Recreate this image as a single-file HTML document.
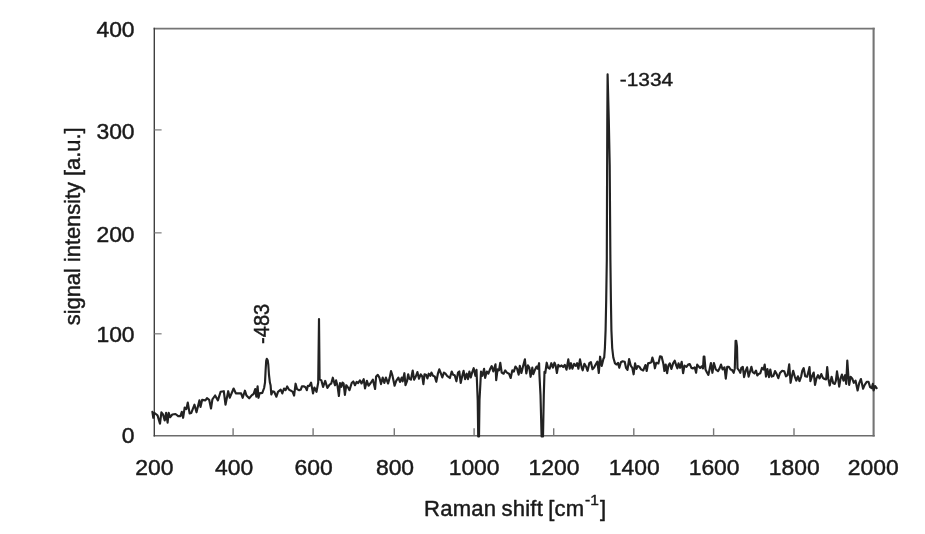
<!DOCTYPE html>
<html><head><meta charset="utf-8"><title>Raman spectrum</title>
<style>
html,body{margin:0;padding:0;background:#fff;}
svg{display:block;filter:blur(0.35px);}
text{font-family:"Liberation Sans",Arial,Helvetica,sans-serif;fill:#1a1a1a;}
</style></head><body>
<svg width="925" height="534" viewBox="0 0 925 534">
<rect x="0" y="0" width="925" height="534" fill="#ffffff"/>
<line x1="153.6" y1="28.6" x2="874.7" y2="28.6" stroke="#757575" stroke-width="1.9"/>
<line x1="873.6" y1="27.7" x2="873.6" y2="436.5" stroke="#747474" stroke-width="2.1"/>
<line x1="153.6" y1="435.75" x2="874.7" y2="435.75" stroke="#6c6c6c" stroke-width="1.6"/>
<line x1="154.3" y1="27.7" x2="154.3" y2="436.5" stroke="#404040" stroke-width="1.4"/>
<line x1="233.10" y1="435.5" x2="233.10" y2="428.3" stroke="#787878" stroke-width="1.4"/>
<line x1="313.10" y1="435.5" x2="313.10" y2="428.3" stroke="#787878" stroke-width="1.4"/>
<line x1="394.30" y1="435.5" x2="394.30" y2="428.3" stroke="#787878" stroke-width="1.4"/>
<line x1="474.10" y1="435.5" x2="474.10" y2="428.3" stroke="#787878" stroke-width="1.4"/>
<line x1="553.70" y1="435.5" x2="553.70" y2="428.3" stroke="#787878" stroke-width="1.4"/>
<line x1="633.80" y1="435.5" x2="633.80" y2="428.3" stroke="#787878" stroke-width="1.4"/>
<line x1="713.60" y1="435.5" x2="713.60" y2="428.3" stroke="#787878" stroke-width="1.4"/>
<line x1="794.00" y1="435.5" x2="794.00" y2="428.3" stroke="#787878" stroke-width="1.4"/>
<line x1="154.5" y1="333.80" x2="161.6" y2="333.80" stroke="#858585" stroke-width="1.3"/>
<line x1="154.5" y1="232.85" x2="161.6" y2="232.85" stroke="#858585" stroke-width="1.3"/>
<line x1="154.5" y1="129.90" x2="161.6" y2="129.90" stroke="#858585" stroke-width="1.3"/>
<text transform="translate(154.45,475.2) scale(1.04,1.02)" font-size="22" text-anchor="middle" stroke="#1a1a1a" stroke-width="0.45" stroke-linejoin="round">200</text>
<text transform="translate(234.20,475.2) scale(1.04,1.02)" font-size="22" text-anchor="middle" stroke="#1a1a1a" stroke-width="0.45" stroke-linejoin="round">400</text>
<text transform="translate(313.70,475.2) scale(1.04,1.02)" font-size="22" text-anchor="middle" stroke="#1a1a1a" stroke-width="0.45" stroke-linejoin="round">600</text>
<text transform="translate(395.00,475.2) scale(1.04,1.02)" font-size="22" text-anchor="middle" stroke="#1a1a1a" stroke-width="0.45" stroke-linejoin="round">800</text>
<text transform="translate(474.10,475.2) scale(1.04,1.02)" font-size="22" text-anchor="middle" stroke="#1a1a1a" stroke-width="0.45" stroke-linejoin="round">1000</text>
<text transform="translate(554.00,475.2) scale(1.04,1.02)" font-size="22" text-anchor="middle" stroke="#1a1a1a" stroke-width="0.45" stroke-linejoin="round">1200</text>
<text transform="translate(634.20,475.2) scale(1.04,1.02)" font-size="22" text-anchor="middle" stroke="#1a1a1a" stroke-width="0.45" stroke-linejoin="round">1400</text>
<text transform="translate(714.10,475.2) scale(1.04,1.02)" font-size="22" text-anchor="middle" stroke="#1a1a1a" stroke-width="0.45" stroke-linejoin="round">1600</text>
<text transform="translate(794.20,475.2) scale(1.04,1.02)" font-size="22" text-anchor="middle" stroke="#1a1a1a" stroke-width="0.45" stroke-linejoin="round">1800</text>
<text transform="translate(873.20,475.2) scale(1.04,1.02)" font-size="22" text-anchor="middle" stroke="#1a1a1a" stroke-width="0.45" stroke-linejoin="round">2000</text>
<text transform="translate(134.6,443.0) scale(1.04,1.02)" font-size="22" text-anchor="end" stroke="#1a1a1a" stroke-width="0.45" stroke-linejoin="round">0</text>
<text transform="translate(134.6,341.6) scale(1.04,1.02)" font-size="22" text-anchor="end" stroke="#1a1a1a" stroke-width="0.45" stroke-linejoin="round">100</text>
<text transform="translate(134.6,241.6) scale(1.04,1.02)" font-size="22" text-anchor="end" stroke="#1a1a1a" stroke-width="0.45" stroke-linejoin="round">200</text>
<text transform="translate(134.6,138.8) scale(1.04,1.02)" font-size="22" text-anchor="end" stroke="#1a1a1a" stroke-width="0.45" stroke-linejoin="round">300</text>
<text transform="translate(134.6,37.4) scale(1.04,1.02)" font-size="22" text-anchor="end" stroke="#1a1a1a" stroke-width="0.45" stroke-linejoin="round">400</text>
<text transform="translate(424.0,516.2) scale(1.003,1)" font-size="22" letter-spacing="0.25" word-spacing="-1.3" stroke="#1a1a1a" stroke-width="0.45" stroke-linejoin="round">Raman shift [cm<tspan font-size="15.5" dy="-11.3" dx="0.5">-1</tspan><tspan dy="11.3" dx="0.8">]</tspan></text>
<text transform="translate(79.5,325.2) rotate(-90) scale(0.993,0.98)" font-size="22" stroke="#1a1a1a" stroke-width="0.45" stroke-linejoin="round">signal intensity [a.u.]</text>
<text transform="translate(619.8,86.3) scale(1.045,0.96)" font-size="20" stroke="#1a1a1a" stroke-width="0.45" stroke-linejoin="round">-1334</text>
<text transform="translate(269.1,343.9) rotate(-90) scale(1.0,1.10)" font-size="20" stroke="#1a1a1a" stroke-width="0.45" stroke-linejoin="round">-483</text>
<polyline fill="none" stroke="#222222" stroke-width="2.15" stroke-linejoin="round" stroke-linecap="round" points="152.4,411.8 153.3,417.8 154.3,412.9 156.5,414.5 157.6,415.6 160.0,423.7 161.4,412.3 163.0,414.5 164.7,420.5 166.1,412.9 167.6,422.7 168.7,412.9 170.1,417.2 172.3,414.5 175.5,414.0 178.2,416.1 180.4,416.1 181.8,411.8 183.1,417.8 184.7,407.5 186.4,409.1 187.8,402.6 189.6,413.4 191.3,412.9 194.5,404.7 196.5,412.3 199.4,400.4 200.5,406.9 202.1,399.9 205.4,400.4 207.0,398.2 209.2,399.9 211.0,408.5 212.4,399.3 215.1,395.5 217.9,400.4 220.6,391.7 223.8,391.2 225.5,404.7 228.2,391.2 229.8,397.7 233.6,388.5 235.8,393.3 240.1,393.3 241.1,393.4 242.7,397.8 244.9,390.7 246.5,395.6 249.2,398.3 251.9,395.1 253.6,394.0 255.2,389.1 256.3,396.7 257.6,386.4 258.5,397.8 259.5,393.4 262.3,392.9 264.1,388.0 265.0,382.6 265.6,370.6 266.2,360.9 266.8,358.9 267.7,360.3 268.3,364.7 269.0,375.0 269.9,382.6 270.6,385.3 271.3,394.5 272.6,391.3 274.2,391.8 276.4,396.7 278.0,391.8 280.7,389.6 282.3,393.4 284.0,388.5 285.6,390.2 287.2,386.4 288.9,389.6 291.0,390.7 292.7,391.8 294.1,395.6 295.6,383.7 297.0,389.1 299.2,390.2 300.8,389.6 301.9,386.4 304.1,386.4 305.7,387.5 306.8,390.2 307.9,385.8 309.5,385.8 311.1,382.6 313.0,393.4 314.4,387.5 316.5,391.8 318.2,382.6 319.0,319.1 319.6,379.3 321.4,380.4 323.1,386.9 325.2,380.9 327.4,388.0 329.6,384.7 331.2,383.7 332.8,377.7 335.0,385.3 336.1,380.4 337.6,386.3 338.9,396.0 340.0,383.0 341.4,386.8 342.5,382.5 343.6,383.5 344.9,394.9 346.3,385.2 347.9,387.3 349.5,390.1 351.7,383.0 353.3,381.4 355.0,385.2 356.6,381.9 358.2,383.0 359.9,380.3 361.5,383.5 363.7,379.2 365.0,388.4 366.9,380.8 368.5,385.7 370.7,383.0 372.9,379.7 375.1,389.0 376.1,376.5 377.8,374.9 379.4,377.6 381.0,384.1 382.7,377.6 384.3,383.0 385.9,377.6 388.1,383.5 389.7,377.6 391.0,371.1 392.4,375.4 394.6,385.7 396.2,380.8 398.4,377.6 400.0,381.9 401.7,377.6 402.7,381.4 404.4,373.2 405.5,385.2 407.1,380.8 408.2,374.3 409.3,378.7 410.9,379.7 412.7,370.5 414.1,379.7 415.8,376.5 417.4,372.1 419.0,378.7 420.7,374.3 422.3,376.5 423.4,384.1 424.5,374.3 426.0,374.7 427.4,378.5 428.7,373.7 430.3,375.8 431.4,372.6 433.0,375.8 434.7,376.4 436.3,381.8 437.9,373.7 439.3,369.3 440.6,372.6 442.3,377.5 443.9,372.6 445.5,373.7 447.1,375.8 449.9,378.0 451.7,371.5 453.1,374.7 454.7,375.3 456.4,381.3 458.0,372.6 459.3,371.5 460.7,382.9 462.3,375.8 463.6,370.9 465.1,379.1 466.7,373.7 468.0,379.1 469.4,371.5 470.8,377.5 472.1,372.6 473.7,368.2 475.4,375.8 476.5,369.9 477.7,400.0 478.2,436.5 479.0,436.5 479.5,400.0 480.4,383.4 481.0,371.5 482.4,375.8 484.1,368.8 485.1,378.0 486.8,371.5 488.4,373.7 490.0,369.3 491.7,366.1 493.3,371.5 495.5,364.4 496.2,380.2 497.6,369.3 499.0,370.4 500.3,362.8 501.7,372.6 503.6,373.7 505.2,370.4 506.9,372.6 509.0,373.7 510.7,378.0 512.3,370.4 513.9,371.5 515.4,366.5 517.1,368.7 518.7,374.6 519.8,365.9 521.4,373.0 523.0,366.5 524.9,359.4 526.3,373.5 527.9,365.4 529.3,367.6 530.6,376.8 532.3,367.6 533.3,374.1 535.0,369.7 536.6,366.5 537.7,368.7 539.1,363.2 539.4,374.1 540.5,395.0 541.6,436.5 543.0,436.5 543.8,395.0 544.5,371.9 545.3,373.0 546.7,362.7 548.0,367.6 549.6,368.7 551.3,363.2 552.9,367.6 554.5,362.7 555.6,365.4 556.9,373.0 558.3,364.9 559.9,366.5 561.6,365.4 563.2,367.0 564.8,364.9 566.5,369.7 568.3,359.4 569.7,368.7 571.0,363.2 572.4,368.7 574.1,363.8 575.7,365.9 577.1,363.2 578.4,368.7 580.0,359.4 581.7,367.6 582.7,370.3 584.4,363.8 586.0,366.5 587.6,370.8 589.3,363.2 590.9,362.1 592.5,369.2 594.1,367.6 595.8,364.3 597.4,361.6 598.8,373.0 600.1,356.7 601.7,365.9 603.4,358.9 604.2,357.5 604.9,348.0 605.6,330.0 606.2,300.0 606.8,260.0 607.0,200.0 607.3,120.0 607.6,74.4 608.8,120.0 609.7,165.0 610.4,260.0 610.9,300.0 611.4,330.0 612.2,348.0 613.3,357.5 615.0,363.4 616.6,364.5 618.0,362.9 619.3,367.8 620.9,362.3 622.6,361.3 624.7,361.8 626.0,367.8 627.5,369.9 629.1,359.1 630.7,365.6 632.3,367.8 633.6,374.3 635.1,363.4 636.5,368.9 637.8,366.1 639.4,366.7 641.0,369.4 643.2,370.5 645.4,365.1 646.7,371.0 648.1,363.4 649.7,362.9 651.3,362.3 652.4,357.5 654.1,363.4 654.9,368.3 656.2,362.9 658.4,363.4 660.0,356.4 661.7,356.9 663.3,363.4 664.4,371.0 665.7,364.5 667.1,373.2 668.4,365.6 669.8,363.4 671.4,368.9 673.1,363.4 674.7,360.7 676.3,365.6 677.4,368.3 678.5,363.4 680.1,367.8 681.7,361.8 683.1,373.2 684.5,365.6 686.5,366.8 688.1,364.6 689.8,364.1 691.4,367.9 693.0,368.4 694.7,367.3 696.1,372.8 697.2,364.6 698.5,366.3 700.1,367.9 701.7,366.3 703.0,368.4 703.7,356.5 704.4,356.5 705.5,369.5 707.1,372.8 708.4,374.9 710.9,363.0 712.4,372.8 713.9,363.0 715.8,369.5 718.0,371.1 719.6,368.4 721.0,364.6 722.6,369.5 724.5,367.3 725.8,378.7 727.2,366.8 728.9,366.8 730.5,369.5 732.1,370.1 733.7,372.8 734.8,368.4 735.6,340.7 736.2,340.7 737.0,346.7 737.5,368.4 739.2,370.6 740.3,372.8 741.3,367.9 742.8,366.8 744.1,377.1 745.7,370.6 747.1,367.3 748.6,376.6 750.0,371.7 751.4,366.8 752.7,372.2 754.4,373.3 756.0,370.6 757.3,375.5 758.7,373.9 760.3,373.3 762.0,367.9 763.6,369.5 764.7,364.6 766.0,376.6 767.4,369.0 769.0,377.1 770.3,369.5 771.7,376.6 773.4,376.0 775.0,371.1 776.6,373.9 778.3,378.2 780.0,373.0 782.2,370.8 784.3,371.4 786.0,376.3 787.6,375.2 789.2,364.3 790.6,382.8 791.9,376.3 793.2,370.8 794.7,376.3 796.3,380.6 797.9,376.3 799.5,381.1 801.2,376.3 802.3,370.8 803.7,368.1 805.2,376.3 807.1,376.8 808.4,371.9 809.5,367.0 810.4,381.1 812.0,376.3 813.7,372.5 815.0,384.9 816.4,378.4 818.0,375.2 819.6,378.4 821.3,374.1 822.9,377.9 824.5,379.0 826.1,379.5 827.2,367.0 828.3,378.4 829.7,385.5 831.6,376.8 833.2,383.3 834.8,383.9 835.9,380.6 837.0,371.4 838.1,378.4 839.2,386.6 840.6,378.4 841.9,374.6 843.5,380.6 845.1,375.2 846.2,383.9 847.3,360.5 848.4,376.3 849.2,384.9 850.6,376.8 852.2,378.4 853.8,382.8 855.5,380.6 857.6,390.4 859.3,382.8 860.9,379.0 863.1,388.7 864.7,384.9 866.9,381.7 868.5,381.7 870.1,387.1 871.7,388.2 872.8,383.9 873.6,390.4 875.0,386.0 876.6,388.2"/>
</svg>
</body></html>
